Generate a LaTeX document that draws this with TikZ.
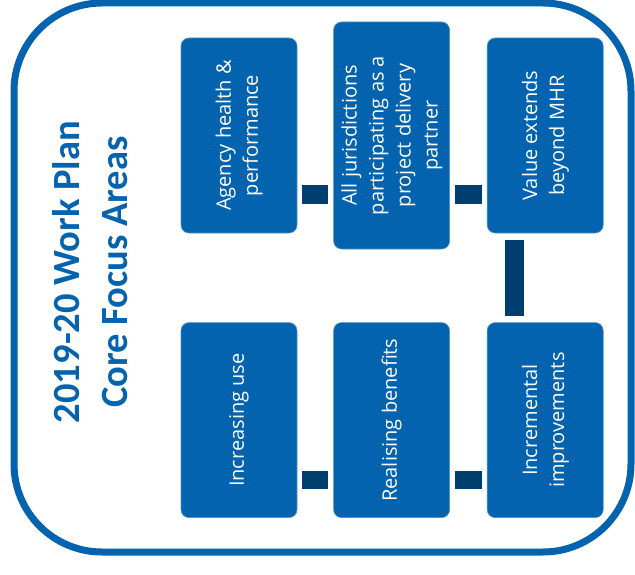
\documentclass[tikz,border=0pt]{standalone}
\usepackage{fontspec}
\usepackage{graphicx}
\setmainfont{Open Sans}
\newfontfamily\titlefont{Carlito}
\usepackage{tikz}
\usetikzlibrary{positioning}
\definecolor{planblue}{RGB}{4,99,174}
\definecolor{linkblue}{RGB}{0,62,112}
\tikzstyle{focus} = [rectangle, rounded corners=8pt, minimum width=116pt, minimum height=195pt, inner sep=0pt, text centered, draw=planblue!70!white, line width=0.6pt, fill=planblue, text=white, font=\fontsize{20}{27}\selectfont]
\tikzstyle{link} = [draw=linkblue, line width=18.5pt, shorten <=5pt, shorten >=5pt]
\tikzstyle{frame} = [draw=planblue, line width=7pt, rounded corners=88pt]
\tikzstyle{heading} = [text=planblue, inner sep=0pt, font=\titlefont\bfseries\fontsize{38.5}{48}\selectfont]

\begin{document}
\begin{tikzpicture}[x=1pt, y=1pt]
\useasboundingbox (0,0) rectangle (635,-575);

% Outer frame
\draw [frame] (14,-3) rectangle (631,-552);

% Title
\node (title) [heading] at (94,-272) {\rotatebox{90}{\begin{tabular}{c}
    2019-20 Work Plan \\
    Core Focus Areas
    \end{tabular}}};

% Top row
\node (health) [focus] at (239,-135.5) {\rotatebox{90}{\begin{tabular}{c}
    Agency health \& \\
    performance
    \end{tabular}}};
\node (partner) [focus, minimum height=227pt, right=36pt of health] {\rotatebox{90}{\begin{tabular}{c}
    All jurisdictions \\
    participating as a \\
    project delivery \\
    partner
    \end{tabular}}};
\node (value) [focus, right=37pt of partner] {\rotatebox{90}{\begin{tabular}{c}
    Value extends \\
    beyond MHR
    \end{tabular}}};

% Bottom row
\node (use) [focus, below=89pt of health] {\rotatebox{90}{Increasing use}};
\node (benefits) [focus, right=36pt of use] {\rotatebox{90}{Realising benefits}};
\node (increments) [focus, right=37pt of benefits] {\rotatebox{90}{\begin{tabular}{c}
    Incremental \\
    improvements
    \end{tabular}}};

% Connectors
\draw [link] ([yshift=-59pt]health.east) -- ([yshift=-59pt]partner.west);
\draw [link] ([yshift=-59pt]partner.east) -- ([yshift=-59pt]value.west);
\draw [link, shorten <=7pt, shorten >=6pt] ([xshift=-30.5pt]value.south) -- ([xshift=-30.5pt]increments.north);
\draw [link] ([yshift=-60pt]use.east) -- ([yshift=-60pt]benefits.west);
\draw [link] ([yshift=-60pt]benefits.east) -- ([yshift=-60pt]increments.west);

\end{tikzpicture}
\end{document}
